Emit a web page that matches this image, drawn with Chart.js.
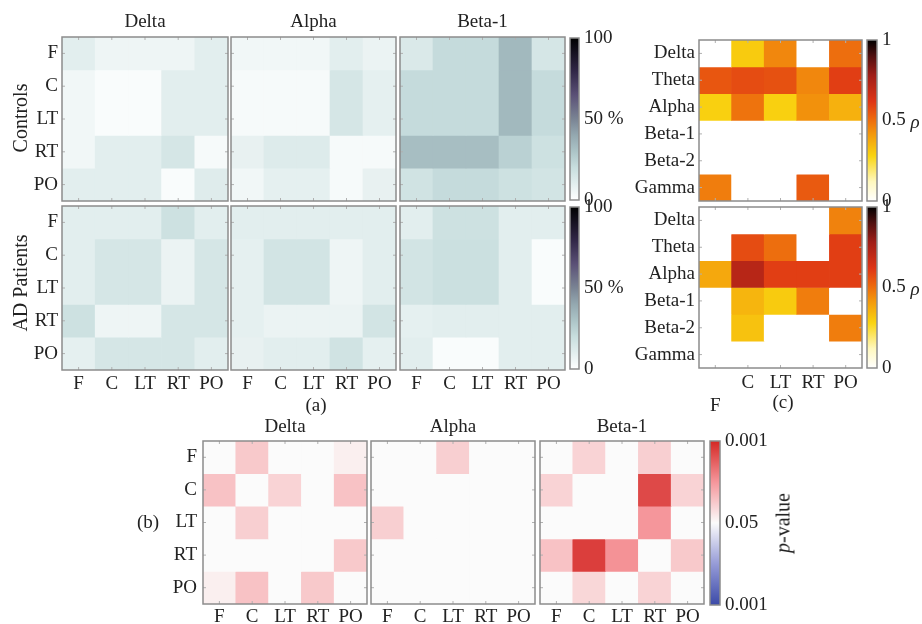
<!DOCTYPE html>
<html>
<head>
<meta charset="utf-8">
<script src="https://cdn.jsdelivr.net/npm/chart.js@4.4.0/dist/chart.umd.min.js"></script>
<style>
    body { margin: 0; background: #fff; }
    #fig { position: relative; width: 922px; height: 624px; overflow: hidden;
           font-family: "Liberation Serif", "DejaVu Serif", serif; color: #222; }
    #fig canvas { position: absolute; }
    .lbl { position: absolute; transform: translate(-50%, -50%); white-space: nowrap; font-size: 19px; }
    .rot { transform: translate(-50%, -50%) rotate(-90deg); font-size: 20px; }
</style>
</head>
<body>
<div id="fig"></div>
<script>
// Axis categories
const channels = ['F', 'C', 'LT', 'RT', 'PO'];
const bands = ['Delta', 'Theta', 'Alpha', 'Beta-1', 'Beta-2', 'Gamma'];
const aBands = ['Delta', 'Alpha', 'Beta-1'];

// (a) connectivity, percent (rows F..PO, cols F..PO)
const controlsDelta = [
    [10, 6, 6, 6, 10],
    [5, 2, 2, 10, 10],
    [5, 2, 2, 10, 10],
    [5, 10, 10, 15, 3],
    [10, 10, 10, 2, 11]
];
const controlsAlpha = [
    [5, 5, 5, 10, 7],
    [3, 3, 3, 15, 9],
    [3, 3, 3, 15, 9],
    [8, 12, 12, 3, 3],
    [5, 9, 9, 3, 8]
];
const controlsBeta1 = [
    [13, 21, 21, 34, 15],
    [21, 21, 21, 34, 21],
    [21, 21, 21, 34, 21],
    [32, 32, 32, 25, 18],
    [17, 21, 21, 18, 16]
];
const patientsDelta = [
    [10, 10, 10, 18, 10],
    [10, 15, 15, 7, 15],
    [10, 15, 15, 7, 15],
    [18, 6, 6, 15, 15],
    [9, 15, 15, 15, 10]
];
const patientsAlpha = [
    [10, 10, 10, 10, 10],
    [9, 16, 16, 6, 10],
    [9, 16, 16, 6, 10],
    [9, 7, 7, 7, 16],
    [8, 10, 10, 17, 9]
];
const patientsBeta1 = [
    [10, 18, 18, 10, 10],
    [16, 19, 19, 10, 2],
    [16, 19, 19, 10, 2],
    [9, 10, 10, 10, 10],
    [10, 2, 2, 10, 10]
];

// (c) correlation rho (rows = bands, cols = channels)
const rhoControls = [
    [0, 0.3, 0.45, 0, 0.5],
    [0.55, 0.57, 0.56, 0.45, 0.6],
    [0.29, 0.49, 0.29, 0.43, 0.36],
    [0, 0, 0, 0, 0],
    [0, 0, 0, 0, 0],
    [0.47, 0, 0, 0.54, 0]
];
const rhoPatients = [
    [0, 0, 0, 0, 0.46],
    [0, 0.57, 0.5, 0, 0.6],
    [0.38, 0.72, 0.6, 0.6, 0.6],
    [0, 0.35, 0.3, 0.47, 0],
    [0, 0.32, 0, 0, 0.47],
    [0, 0, 0, 0, 0]
];

// (b) p-value strength, signed (+ red side, - blue side, 0 = p 0.05)
const pDelta = [
    [0, 0.25, 0, 0, 0.06],
    [0.28, 0, 0.2, 0, 0.28],
    [0, 0.22, 0, 0, 0],
    [0, 0, 0, 0, 0.25],
    [0.06, 0.28, 0, 0.25, 0]
];
const pAlpha = [
    [0, 0, 0.22, 0, 0],
    [0, 0, 0, 0, 0],
    [0.22, 0, 0, 0, 0],
    [0, 0, 0, 0, 0],
    [0, 0, 0, 0, 0]
];
const pBeta1 = [
    [0, 0.2, 0, 0.22, 0],
    [0.2, 0, 0, 0.85, 0.2],
    [0, 0, 0, 0.5, 0],
    [0.28, 0.9, 0.52, 0, 0.25],
    [0, 0.18, 0, 0.2, 0]
];

// Colorbar ticks
const pctTicks = [0, 50, 100], pctLabels = ['0', '50 %', '100'];
const rhoTicks = [0, 0.5, 1], rhoLabels = ['0', '0.5', '1'];
const pTicks = [-1, 0, 1], pLabels = ['0.001', '0.05', '0.001'];

// Colormaps
const pctStops = [[0, [255, 255, 255]], [10, [226, 238, 238]], [20, [200, 222, 222]], [30, [172, 196, 199]],
    [40, [148, 168, 176]], [50, [122, 132, 148]], [65, [90, 80, 118]], [80, [48, 38, 70]], [100, [0, 0, 0]]];
const hotStops = [[0, [255, 255, 255]], [0.12, [255, 248, 190]], [0.28, [249, 212, 16]], [0.42, [243, 150, 12]],
    [0.52, [236, 100, 14]], [0.62, [222, 52, 22]], [0.78, [160, 30, 24]], [0.9, [80, 15, 15]], [1, [0, 0, 0]]];
const pStops = [[-1, [59, 74, 168]], [-0.5, [150, 155, 215]], [0, [251, 251, 251]], [0.5, [245, 150, 155]], [1, [212, 40, 36]]];

Chart.defaults.font.family = '"Liberation Serif", "DejaVu Serif", serif';
Chart.defaults.font.size = 19;
Chart.defaults.color = '#222';
Chart.defaults.animation = false;

const PAD = 24;
const fig = document.getElementById('fig');

function rgb(c) {
    return `rgb(${Math.round(c[0])}, ${Math.round(c[1])}, ${Math.round(c[2])})`;
}

function mapColor(stops, v) {
    if (v <= stops[0][0]) return rgb(stops[0][1]);
    for (let i = 1; i < stops.length; i++) {
        const [p1, c1] = stops[i], [p0, c0] = stops[i - 1];
        if (v <= p1) {
            const t = (v - p0) / (p1 - p0);
            return rgb(c0.map((c, k) => c + (c1[k] - c) * t));
        }
    }
    return rgb(stops[stops.length - 1][1]);
}

// frame round the plot area plus small inward tick marks
const framePlugin = {
    id: 'frame',
    afterDatasetsDraw(chart, args, opts) {
        const a = chart.chartArea;
        const ctx = chart.ctx;
        ctx.save();
        if (opts.ticks) {
            ctx.strokeStyle = '#b0b0b0';
            ctx.lineWidth = 1;
            ctx.beginPath();
            const xs = chart.scales.x, ys = chart.scales.y;
            xs.ticks.forEach((t, i) => {
                const px = xs.getPixelForTick(i);
                ctx.moveTo(px, a.top); ctx.lineTo(px, a.top + 3);
                ctx.moveTo(px, a.bottom); ctx.lineTo(px, a.bottom - 3);
            });
            ys.ticks.forEach((t, i) => {
                const py = ys.getPixelForTick(i);
                ctx.moveTo(a.left, py); ctx.lineTo(a.left + 3, py);
                ctx.moveTo(a.right, py); ctx.lineTo(a.right - 3, py);
            });
            ctx.stroke();
        }
        ctx.strokeStyle = '#8c8c8c';
        ctx.lineWidth = 1.5;
        ctx.strokeRect(a.left, a.top, a.right - a.left, a.bottom - a.top);
        ctx.restore();
    }
};

function addCanvas(left, top, w, h) {
    const c = document.createElement('canvas');
    c.width = w;
    c.height = h;
    c.style.left = left + 'px';
    c.style.top = top + 'px';
    fig.appendChild(c);
    return c;
}

function addText(text, x, y, cls) {
    const d = document.createElement('div');
    d.className = 'lbl' + (cls ? ' ' + cls : '');
    d.style.left = x + 'px';
    d.style.top = y + 'px';
    d.innerHTML = text;
    fig.appendChild(d);
}

// Heatmap: one floating-bar dataset per row
function heatmap(box, rows, values, stops, cfg) {
    const yW = cfg.yW || 0, xH = cfg.xH || 0;
    const canvas = addCanvas(box.x - yW - 2, box.y - PAD, yW + box.w + PAD + 2, PAD + box.h + xH + PAD);
    new Chart(canvas, {
        type: 'bar',
        data: {
            labels: cfg.xLabels || channels,
            datasets: rows.map((r, i) => ({
                label: r,
                data: values[i].map(() => [i, i + 1]),
                backgroundColor: values[i].map(v => mapColor(stops, v)),
                borderWidth: 0,
                grouped: false,
                barPercentage: 1,
                categoryPercentage: 1
            }))
        },
        options: {
            responsive: false,
            layout: { padding: { top: PAD, right: PAD, bottom: PAD, left: 2 } },
            plugins: { legend: { display: false }, tooltip: { enabled: false }, frame: { ticks: true } },
            scales: {
                x: {
                    grid: { display: false, drawTicks: false },
                    border: { display: false },
                    ticks: { display: !!xH, padding: cfg.xPad || 3, maxRotation: 0, autoSkip: false },
                    afterFit: s => { s.height = xH; }
                },
                y: {
                    min: 0, max: rows.length, reverse: true,
                    grid: { display: false, drawTicks: false },
                    border: { display: false },
                    afterBuildTicks: s => { s.ticks = rows.map((_, i) => ({ value: i + 0.5 })); },
                    ticks: { display: !!yW, padding: cfg.yPad || 5, autoSkip: false, callback: (v, i) => rows[i] },
                    afterFit: s => { s.width = yW; }
                }
            }
        },
        plugins: [framePlugin]
    });
}

// Colorbar: a single floating bar with a gradient fill
function colorbar(box, stops, tickVals, tickLabels) {
    const lo = tickVals[0], hi = tickVals[tickVals.length - 1];
    const canvas = addCanvas(box.x - 2, box.y - PAD, box.w + 62, box.h + 2 * PAD);
    new Chart(canvas, {
        type: 'bar',
        data: {
            labels: [''],
            datasets: [{
                data: [[lo, hi]],
                backgroundColor: c => {
                    const a = c.chart.chartArea;
                    if (!a) return null;
                    const g = c.chart.ctx.createLinearGradient(0, a.bottom, 0, a.top);
                    stops.forEach(([p, col]) => g.addColorStop((p - lo) / (hi - lo), rgb(col)));
                    return g;
                },
                borderWidth: 0,
                barPercentage: 1,
                categoryPercentage: 1
            }]
        },
        options: {
            responsive: false,
            layout: { padding: { top: PAD, bottom: PAD, left: 2, right: 0 } },
            plugins: { legend: { display: false }, tooltip: { enabled: false }, frame: { ticks: false } },
            scales: {
                x: { display: false },
                y: {
                    position: 'right', min: lo, max: hi,
                    grid: { display: false, drawTicks: false },
                    border: { display: false },
                    afterBuildTicks: s => { s.ticks = tickVals.map(v => ({ value: v })); },
                    ticks: { padding: 5, autoSkip: false, callback: (v, i) => tickLabels[i] },
                    afterFit: s => { s.width = 60; }
                }
            }
        },
        plugins: [framePlugin]
    });
}

// ---- Panel (a) ----
const aCols = [{ x: 62, w: 166 }, { x: 231, w: 165 }, { x: 400, w: 165 }];
const aRows = [{ y: 37, h: 164 }, { y: 206, h: 164 }];
const aData = [[controlsDelta, controlsAlpha, controlsBeta1], [patientsDelta, patientsAlpha, patientsBeta1]];
aRows.forEach((r, ri) => {
    aCols.forEach((c, ci) => {
        heatmap({ x: c.x, y: r.y, w: c.w, h: r.h }, channels, aData[ri][ci], pctStops,
            { yW: ci === 0 ? 40 : 0, xH: ri === 1 ? 26 : 0, yPad: 4, xPad: 3 });
    });
    colorbar({ x: 570, y: r.y + 1, w: 9, h: r.h - 2 }, pctStops, pctTicks, pctLabels);
});
aBands.forEach((b, i) => addText(b, aCols[i].x + aCols[i].w / 2, 21));
addText('Controls', 20, 118, 'rot');
addText('AD Patients', 20, 283, 'rot');
addText('(a)', 316, 405);

// ---- Panel (c) ----
heatmap({ x: 699, y: 40, w: 163, h: 161 }, bands, rhoControls, hotStops, { yW: 80, yPad: 4 });
heatmap({ x: 699, y: 207, w: 163, h: 161 }, bands, rhoPatients, hotStops,
    { yW: 80, xH: 46, yPad: 4, xPad: 4, xLabels: [['', 'F'], 'C', 'LT', 'RT', 'PO'] });
colorbar({ x: 867, y: 40, w: 10, h: 161 }, hotStops, rhoTicks, rhoLabels);
colorbar({ x: 867, y: 207, w: 10, h: 161 }, hotStops, rhoTicks, rhoLabels);
addText('<i>ρ</i>', 915, 122);
addText('<i>ρ</i>', 915, 289);
addText('(c)', 783, 402);

// ---- Panel (b) ----
const bCols = [{ x: 203, w: 164 }, { x: 371, w: 164 }, { x: 540, w: 164 }];
const bData = [pDelta, pAlpha, pBeta1];
bCols.forEach((c, ci) => {
    heatmap({ x: c.x, y: 441, w: c.w, h: 163 }, channels, bData[ci], pStops,
        { yW: ci === 0 ? 40 : 0, xH: 24, yPad: 6, xPad: 2 });
    addText(aBands[ci], c.x + c.w / 2, 426);
});
colorbar({ x: 710, y: 441, w: 10, h: 164 }, pStops, pTicks, pLabels);
addText('<i>p</i>-value', 783, 523, 'rot');
addText('(b)', 148, 522);
</script>
</body>
</html>
